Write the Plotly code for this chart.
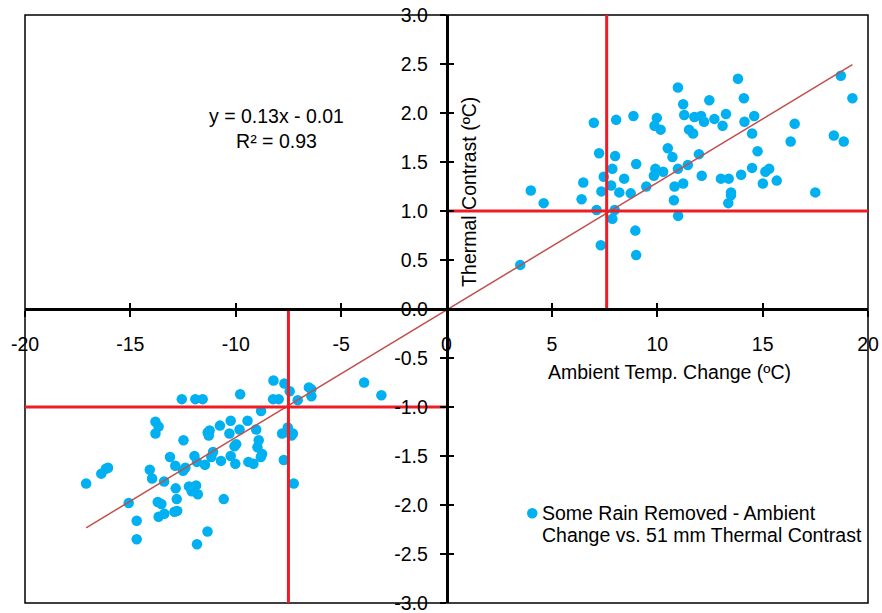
import plotly.graph_objects as go

# Warm-season points: ambient temperature change (ºC) vs 51 mm thermal contrast (ºC)
warm_x = [3.50, 4.00, 4.61, 6.41, 6.49, 6.99, 7.24, 7.12, 7.35, 7.32, 7.46, 7.81, 7.87, 8.00,
          8.05, 7.98, 7.87, 8.20, 8.43, 8.74, 8.87, 9.00, 8.96, 9.00, 9.48, 9.87, 9.98, 10.16,
          9.91, 9.84, 10.28, 10.50, 10.72, 10.98, 11.23, 11.28, 11.51, 11.70, 11.76, 12.08,
          12.22, 12.47, 12.71, 13.10, 13.26, 13.83, 14.11, 14.14, 14.60, 14.50, 14.76, 10.98,
          11.45, 11.98, 10.82, 11.23, 10.79, 10.99, 12.11, 13.02, 13.39, 13.50, 13.50, 13.37,
          13.98, 14.50, 15.01, 15.13, 15.31, 15.67, 16.33, 16.52, 17.50, 18.38, 18.85, 18.71,
          19.26]
warm_y = [0.45, 1.21, 1.08, 1.12, 1.29, 1.90, 1.59, 1.01, 1.20, 0.65, 1.35, 1.26, 1.43, 1.56,
          1.93, 1.01, 0.92, 1.19, 1.33, 1.18, 1.97, 1.48, 0.80, 0.55, 1.25, 1.87, 1.95, 1.83,
          1.43, 1.36, 1.40, 1.64, 1.55, 2.26, 2.09, 1.98, 1.83, 1.79, 1.96, 1.97,
          1.91, 2.13, 1.94, 1.87, 1.99, 2.35, 2.15, 1.91, 1.97, 1.79, 1.61, 1.43,
          1.47, 1.58, 1.25, 1.28, 1.11, 0.95, 1.36, 1.33, 1.33, 1.19, 1.16, 1.08,
          1.37, 1.44, 1.28, 1.40, 1.43, 1.31, 1.71, 1.89, 1.19, 1.77, 1.71, 2.38,
          2.15]

# Cool-season points
cool_x = [-17.10, -16.38, -16.16, -16.06, -15.08, -14.70, -14.70, -14.08, -13.97, -13.81,
          -13.66, -13.81, -13.70, -13.53, -13.66, -13.39, -13.40, -13.12, -12.87, -12.85,
          -12.80, -12.91, -12.78, -12.56, -12.48, -12.50, -12.39, -12.22, -12.09, -11.88,
          -11.80, -11.96, -11.84, -11.92, -11.57, -11.84, -11.34, -11.46, -11.33, -11.28,
          -11.24, -11.16, -11.08, -10.75, -10.70, -10.57, -10.24, -10.30, -10.24, -10.06,
          -9.98, -10.02, -9.79, -9.82, -9.44, -9.40, -9.16, -9.03, -8.91, -8.97,
          -8.80, -8.75, -8.81, -8.21, -8.23, -7.96, -7.69, -7.72, -7.44, -7.53,
          -7.80, -7.36, -7.29, -7.25, -7.06, -6.53, -6.41, -6.41, -3.91, -3.09]
cool_y = [-1.78, -1.68, -1.63, -1.62, -1.98, -2.16, -2.35, -1.64, -1.73, -1.15,
          -1.20, -1.27, -1.97, -1.99, -2.12, -2.09, -1.76, -1.51, -1.60, -1.83,
          -1.94, -2.07, -2.06, -0.92, -1.34, -1.65, -1.62, -1.81, -1.86, -1.80,
          -1.89, -1.50, -1.56, -0.92, -0.92, -2.40, -2.27, -1.59, -1.26, -1.29,
          -1.24, -1.51, -1.46, -1.19, -1.55, -1.94, -1.14, -1.27, -1.50, -1.40,
          -1.38, -1.58, -0.87, -1.23, -1.14, -1.56, -1.58, -1.23, -1.34, -1.41,
          -1.04, -1.48, -1.51, -0.73, -0.92, -0.92, -0.76, -1.54, -0.84, -1.21,
          -1.27, -1.29, -1.27, -1.78, -0.93, -0.80, -0.89, -0.82, -0.75, -0.88]

# Linear fit reported on the chart
slope = 0.13
intercept = -0.01
r_squared = 0.93

# Reference levels (mean ambient change and 1 ºC contrast) for each half
warm_ref_x = 7.6
cool_ref_x = -7.5
warm_ref_y = 1.0
cool_ref_y = -1.0

x_ticks = [-20, -15, -10, -5, 0, 5, 10, 15, 20]
y_ticks = [-3.0, -2.5, -2.0, -1.5, -1.0, -0.5, 0.0, 0.5, 1.0, 1.5, 2.0, 2.5, 3.0]

series_name = ["Some Rain Removed - Ambient", "Change vs. 51 mm Thermal Contrast"]

all_x = cool_x + warm_x
all_y = cool_y + warm_y
fit_x = [min(all_x), max(all_x)]
fit_y = [slope * v + intercept for v in fit_x]

FONT = "Liberation Sans, Arial, sans-serif"
FS = 19.5
POINT_COLOR = "#00B0F0"
REF_COLOR = "#EE1C25"

fig = go.Figure()

fig.add_trace(go.Scatter(
    x=all_x, y=all_y, mode="markers",
    marker=dict(color=POINT_COLOR, size=10.5, line=dict(width=0)),
    name=" ".join(series_name), showlegend=False,
))

fig.add_trace(go.Scatter(
    x=fit_x, y=fit_y, mode="lines",
    line=dict(color="#C0504D", width=1.5), showlegend=False, hoverinfo="skip",
))

# Red reference cross-hairs
ref_lines = [
    ([warm_ref_x, warm_ref_x], [0, 3]),
    ([0, 20], [warm_ref_y, warm_ref_y]),
    ([cool_ref_x, cool_ref_x], [0, -3]),
    ([-20, 0], [cool_ref_y, cool_ref_y]),
]
for lx, ly in ref_lines:
    fig.add_trace(go.Scatter(
        x=lx, y=ly, mode="lines", line=dict(color=REF_COLOR, width=3),
        showlegend=False, hoverinfo="skip",
    ))

# Companion axes carrying the inward half of the crossing tick marks
fig.add_trace(go.Scatter(x=[], y=[], xaxis="x2", yaxis="y2", showlegend=False))

axis_common = dict(
    showgrid=False, zeroline=False, showline=True, linecolor="black", linewidth=2.5,
    tickcolor="black", tickwidth=1.5, ticklen=6, automargin=False,
    ticklabeloverflow="allow",
    tickfont=dict(family=FONT, size=FS, color="black"),
)

fig.update_layout(
    width=882, height=613,
    margin=dict(l=25, r=14, t=15, b=10),
    paper_bgcolor="white", plot_bgcolor="white",
    font=dict(family=FONT, size=FS, color="black"),
    xaxis=dict(
        range=[-20, 20], tickvals=x_ticks, ticktext=[str(v) for v in x_ticks],
        anchor="free", position=0.5, ticks="outside", ticklabelstandoff=11,
        **axis_common,
    ),
    yaxis=dict(
        range=[-3, 3], tickvals=y_ticks, ticktext=[f"{v:.1f}" for v in y_ticks],
        anchor="free", position=0.5, ticks="outside", ticklabelstandoff=8,
        **axis_common,
    ),
    xaxis2=dict(
        range=[-20, 20], overlaying="x", anchor="free", position=0.5, automargin=False,
        tickvals=x_ticks, ticks="inside", ticklen=6, tickwidth=1.5, tickcolor="black",
        showticklabels=False, showgrid=False, zeroline=False, showline=False,
    ),
    yaxis2=dict(
        range=[-3, 3], overlaying="y", anchor="free", position=0.5, automargin=False,
        tickvals=y_ticks, ticks="inside", ticklen=6, tickwidth=1.5, tickcolor="black",
        showticklabels=False, showgrid=False, zeroline=False, showline=False,
    ),
    showlegend=False,
)

# Plot-area frame
fig.add_shape(type="rect", xref="paper", yref="paper", x0=0, y0=0, x1=1, y1=1,
              line=dict(color="black", width=1.5), layer="below")

# Axis titles placed beside the crossing axes
fig.add_annotation(
    x=10.6, y=0, xref="x", yref="y", yshift=-63, showarrow=False,
    text="Ambient Temp. Change (ºC)", font=dict(family=FONT, size=FS, color="black"),
)
fig.add_annotation(
    x=0, y=1.19, xref="x", yref="y", xshift=23, showarrow=False, textangle=-90,
    text="Thermal Contrast (ºC)", font=dict(family=FONT, size=FS, color="black"),
)

# Fit equation
fig.add_annotation(
    x=-8.07, y=1.84, xref="x", yref="y", showarrow=False, align="center",
    text=f"y = {slope:.2f}x - {abs(intercept):.2f}<br>R² = {r_squared:.2f}",
    font=dict(family=FONT, size=FS, color="black"),
)

# Legend: key symbol plus two left-aligned lines of series text
fig.add_shape(type="circle", xref="paper", yref="paper",
              x0=(527 - 25) / 843, x1=(537.5 - 25) / 843,
              y0=(603 - 518.5) / 588, y1=(603 - 508) / 588,
              fillcolor=POINT_COLOR, line=dict(width=0))
for i, line_text in enumerate(series_name):
    fig.add_annotation(
        x=(540 - 25) / 843, y=(603 - (513 + 22 * i)) / 588, xref="paper", yref="paper",
        xanchor="left", yanchor="middle", showarrow=False, align="left",
        text=line_text, font=dict(family=FONT, size=FS, color="black"),
    )

fig.write_html("out.html")
